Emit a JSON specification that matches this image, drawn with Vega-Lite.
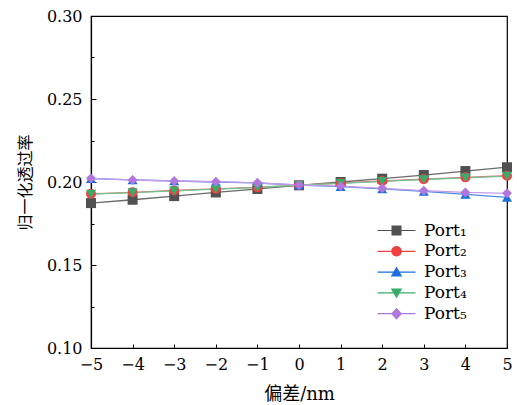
{
  "$schema": "https://vega.github.io/schema/vega-lite/v6.json",
  "width": 416,
  "height": 332,
  "autosize": "none",
  "padding": {"left": 91, "top": 16, "right": 10, "bottom": 57},
  "background": "white",
  "config": {
    "view": {"stroke": "black", "strokeWidth": 1.2},
    "font": "DejaVu Serif",
    "axis": {"domainColor": "black", "tickColor": "black", "labelColor": "black", "titleColor": "black", "grid": false, "domainWidth": 1.2, "tickWidth": 1, "ticks": true}
  },
  "data": {"values": [
    {"x": -5, "series": "Port₁", "y": 0.1873}, {"x": -4, "series": "Port₁", "y": 0.1893}, {"x": -3, "series": "Port₁", "y": 0.1915}, {"x": -2, "series": "Port₁", "y": 0.1937}, {"x": -1, "series": "Port₁", "y": 0.1958}, {"x": 0, "series": "Port₁", "y": 0.1980}, {"x": 1, "series": "Port₁", "y": 0.2000}, {"x": 2, "series": "Port₁", "y": 0.2020}, {"x": 3, "series": "Port₁", "y": 0.2042}, {"x": 4, "series": "Port₁", "y": 0.2066}, {"x": 5, "series": "Port₁", "y": 0.2089},
    {"x": -5, "series": "Port₂", "y": 0.1929}, {"x": -4, "series": "Port₂", "y": 0.1938}, {"x": -3, "series": "Port₂", "y": 0.1949}, {"x": -2, "series": "Port₂", "y": 0.1959}, {"x": -1, "series": "Port₂", "y": 0.1968}, {"x": 0, "series": "Port₂", "y": 0.1981}, {"x": 1, "series": "Port₂", "y": 0.1993}, {"x": 2, "series": "Port₂", "y": 0.2006}, {"x": 3, "series": "Port₂", "y": 0.2017}, {"x": 4, "series": "Port₂", "y": 0.2028}, {"x": 5, "series": "Port₂", "y": 0.2038},
    {"x": -5, "series": "Port₃", "y": 0.2020}, {"x": -4, "series": "Port₃", "y": 0.2013}, {"x": -3, "series": "Port₃", "y": 0.2006}, {"x": -2, "series": "Port₃", "y": 0.2000}, {"x": -1, "series": "Port₃", "y": 0.1994}, {"x": 0, "series": "Port₃", "y": 0.1981}, {"x": 1, "series": "Port₃", "y": 0.1972}, {"x": 2, "series": "Port₃", "y": 0.1958}, {"x": 3, "series": "Port₃", "y": 0.1943}, {"x": 4, "series": "Port₃", "y": 0.1925}, {"x": 5, "series": "Port₃", "y": 0.1907},
    {"x": -5, "series": "Port₄", "y": 0.1927}, {"x": -4, "series": "Port₄", "y": 0.1936}, {"x": -3, "series": "Port₄", "y": 0.1947}, {"x": -2, "series": "Port₄", "y": 0.1957}, {"x": -1, "series": "Port₄", "y": 0.1967}, {"x": 0, "series": "Port₄", "y": 0.1981}, {"x": 1, "series": "Port₄", "y": 0.1992}, {"x": 2, "series": "Port₄", "y": 0.2004}, {"x": 3, "series": "Port₄", "y": 0.2015}, {"x": 4, "series": "Port₄", "y": 0.2025}, {"x": 5, "series": "Port₄", "y": 0.2035},
    {"x": -5, "series": "Port₅", "y": 0.2022}, {"x": -4, "series": "Port₅", "y": 0.2012}, {"x": -3, "series": "Port₅", "y": 0.2006}, {"x": -2, "series": "Port₅", "y": 0.2002}, {"x": -1, "series": "Port₅", "y": 0.1995}, {"x": 0, "series": "Port₅", "y": 0.1982}, {"x": 1, "series": "Port₅", "y": 0.1975}, {"x": 2, "series": "Port₅", "y": 0.1962}, {"x": 3, "series": "Port₅", "y": 0.1948}, {"x": 4, "series": "Port₅", "y": 0.1937}, {"x": 5, "series": "Port₅", "y": 0.1932}
  ]},
  "encoding": {
    "x": {
      "field": "x", "type": "quantitative",
      "scale": {"domain": [-5, 5], "nice": false, "zero": false},
      "axis": {
        "values": [-5, -4, -3, -2, -1, 0, 1, 2, 3, 4, 5],
        "format": "d",
        "ticks": true,
        "tickSize": -4,
        "tickWidth": 1,
        "tickColor": "black",
        "labelPadding": 12,
        "labelFontSize": 16,
        "labelFont": "DejaVu Serif",
        "labelFlush": false,
        "title": "偏差/nm",
        "titleFont": "DejaVu Serif, Noto Sans CJK SC",
        "titleFontSize": 18,
        "titleFontWeight": "normal",
        "titlePadding": 13
      }
    },
    "y": {
      "field": "y", "type": "quantitative",
      "scale": {"domain": [0.1, 0.3], "nice": false, "zero": false}
    }
  },
  "layer": [
    {
      "mark": {"type": "line", "strokeWidth": 1.3},
      "encoding": {
        "color": {"field": "series", "type": "nominal",
          "scale": {"domain": ["Port₁", "Port₂", "Port₃", "Port₄", "Port₅"], "range": ["#6a6a6a", "#f36868", "#4a8de6", "#6cc592", "#c49be8"]},
          "legend": null},
        "y": {"field": "y", "type": "quantitative",
          "scale": {"domain": [0.1, 0.3], "nice": false, "zero": false},
          "axis": {"orient": "left", "values": [0.125, 0.175, 0.225, 0.275], "labels": false, "domain": false, "ticks": true, "tickSize": -3, "tickWidth": 1, "tickColor": "black", "title": null, "grid": false}}
      }
    },
    {
      "mark": {"type": "point", "filled": true, "opacity": 1, "size": 100},
      "encoding": {
        "color": {"field": "series", "type": "nominal",
          "scale": {"domain": ["Port₁", "Port₂", "Port₃", "Port₄", "Port₅"], "range": ["#515151", "#F14040", "#1A6FDF", "#37AD6B", "#B177DE"]},
          "legend": null},
        "shape": {"field": "series", "type": "nominal",
          "scale": {"domain": ["Port₁", "Port₂", "Port₃", "Port₄", "Port₅"], "range": ["square", "circle", "triangle-up", "triangle-down", "diamond"]},
          "legend": null},
        "y": {"field": "y", "type": "quantitative",
          "scale": {"domain": [0.1, 0.3], "nice": false, "zero": false},
          "axis": {"orient": "left", "values": [0.1, 0.15, 0.2, 0.25, 0.3], "format": ".2f", "ticks": true, "tickSize": -5, "tickWidth": 1, "tickColor": "black", "labelPadding": 14, "labelFontSize": 16, "labelFont": "DejaVu Serif", "title": "归一化透过率", "titleFont": "Noto Sans CJK SC", "titleFontSize": 16, "titleFontWeight": "normal", "titlePadding": 13, "grid": false}}
      }
    },
    {
      "transform": [{"filter": "false"}],
      "mark": {"type": "point", "filled": true, "opacity": 1},
      "encoding": {
        "color": {"field": "series", "type": "nominal",
          "scale": {"domain": ["Port₁", "Port₂", "Port₃", "Port₄", "Port₅"], "range": ["#515151", "#F14040", "#1A6FDF", "#37AD6B", "#B177DE"]},
          "legend": {"title": null, "orient": "none", "legendX": 297, "legendY": 206, "symbolSize": 100, "labelFontSize": 17, "labelFont": "DejaVu Serif", "labelColor": "black", "labelOffset": 19, "rowPadding": 2.8, "symbolStrokeWidth": 0}},
        "shape": {"field": "series", "type": "nominal",
          "scale": {"domain": ["Port₁", "Port₂", "Port₃", "Port₄", "Port₅"], "range": [
            "M-3.8,-0.12H3.8V0.12H-3.8ZM-1,-1H1V1H-1Z",
            "M-3.8,-0.12H3.8V0.12H-3.8ZM-1.05,0A1.05,1.05,0,1,1,1.05,0A1.05,1.05,0,1,1,-1.05,0Z",
            "M-3.8,-0.12H3.8V0.12H-3.8ZM0,-1.1L1.15,0.9H-1.15Z",
            "M-3.8,-0.12H3.8V0.12H-3.8ZM-1.15,-0.9H1.15L0,1.1Z",
            "M-3.8,-0.12H3.8V0.12H-3.8ZM0,-1.2L1.1,0L0,1.2L-1.1,0Z"]},
          "legend": {"title": null, "orient": "none", "legendX": 297, "legendY": 206, "symbolSize": 100, "labelFontSize": 17, "labelFont": "DejaVu Serif", "labelColor": "black", "labelOffset": 19, "rowPadding": 2.8, "symbolStrokeWidth": 0}},
        "y": {"field": "y", "type": "quantitative", "scale": {"domain": [0.1, 0.3], "nice": false, "zero": false}, "axis": null}
      }
    }
  ],
  "resolve": {"scale": {"color": "independent", "shape": "independent"}, "axis": {"y": "independent"}}
}
